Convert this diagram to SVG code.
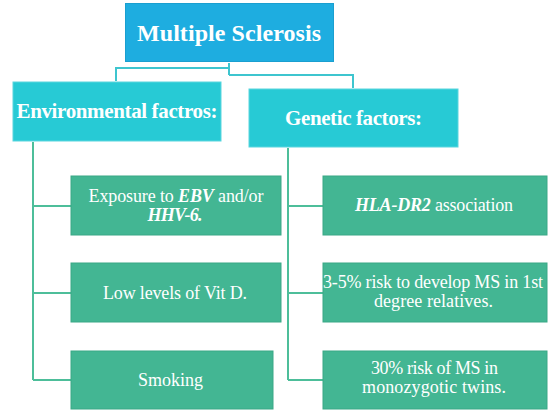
<svg xmlns="http://www.w3.org/2000/svg" width="560" height="412" viewBox="0 0 560 412">
<style>
.t{font-family:"Liberation Serif","Times New Roman",serif;fill:#fff;text-anchor:middle}
.h{font-weight:bold}
.s{font-size:18px}
.g{fill:#43B693;stroke:#3AA886;stroke-width:1}
.c{fill:#27CAD5;stroke:#5AD6DE;stroke-width:1}
.lc{fill:none;stroke:#3EC5CF;stroke-width:2}
.lg{fill:none;stroke:#4DBE9A;stroke-width:2}
</style>
<rect width="560" height="412" fill="#fff"/>
<g id="connectors">
<path class="lc" d="M229,63 V75 M229,68 H116 V81 M229,75 H353 V88"/>
<path class="lg" d="M33,142 V380 M33,206 H71 M33,293 H71 M33,380 H71"/>
<path class="lg" d="M288,148 V380 M288,206 H323 M288,293 H323 M288,380 H323"/>
</g>
<g id="ms">
<rect x="125.5" y="3.5" width="208" height="58" fill="#1EADE0" stroke="#1A9FD0"/>
<text class="t h" x="229" y="41" font-size="24" textLength="184">Multiple Sclerosis</text>
</g>
<g id="env">
<rect class="c" x="13" y="82" width="208" height="59"/>
<text class="t h" x="117" y="118" font-size="21" textLength="201">Environmental factros:</text>
</g>
<g id="gen">
<rect class="c" x="249" y="89" width="209" height="58"/>
<text class="t h" x="353.5" y="125" font-size="21" textLength="137">Genetic factors:</text>
</g>
<g id="ebv">
<rect class="g" x="71" y="176" width="210" height="59"/>
<text class="t s" x="176" y="202" textLength="175">Exposure to <tspan font-style="italic" font-weight="bold">EBV</tspan> and/or</text>
<text class="t s" x="175" y="221" font-style="italic" font-weight="bold" textLength="55">HHV-6.</text>
</g>
<g id="vitd">
<rect class="g" x="71" y="263" width="210" height="59"/>
<text class="t s" x="175" y="299" textLength="144">Low levels of Vit D.</text>
</g>
<g id="smoking">
<rect class="g" x="71" y="351" width="202" height="58"/>
<text class="t s" x="170.5" y="386" textLength="65">Smoking</text>
</g>
<g id="hla">
<rect class="g" x="323" y="176" width="224" height="59"/>
<text class="t s" x="434" y="211" textLength="158"><tspan font-style="italic" font-weight="bold">HLA-DR2</tspan> association</text>
</g>
<g id="risk">
<rect class="g" x="323" y="263" width="224" height="59"/>
<text class="t s" x="433" y="288" textLength="220">3-5% risk to develop MS in 1st</text>
<text class="t s" x="433.5" y="307" textLength="119">degree relatives.</text>
</g>
<g id="twins">
<rect class="g" x="323" y="351" width="224" height="58"/>
<text class="t s" x="434.5" y="374" textLength="127">30% risk of MS in</text>
<text class="t s" x="434" y="393" textLength="144">monozygotic twins.</text>
</g>
</svg>
